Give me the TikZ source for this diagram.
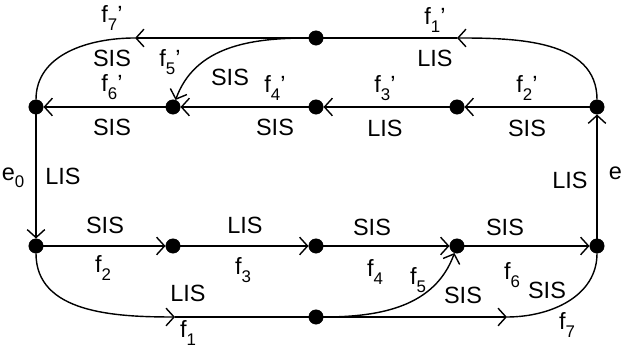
\documentclass[tikz,border=0pt]{standalone}
\usepackage{fontspec}
\setmainfont{Liberation Sans}
\usetikzlibrary{positioning, arrows.meta}
\newcommand{\fsub}[1]{f\raisebox{-0.6ex}{\fontsize{12}{12}\selectfont #1}}
\newcommand{\fpr}[1]{\fsub{#1}\char"27}
\newcommand{\esub}[1]{e\raisebox{-0.6ex}{\fontsize{12}{12}\selectfont #1}}

\begin{document}
\begin{tikzpicture}[x=0.025cm, y=0.025cm,
    dot/.style={draw, circle, fill=black, inner sep=0pt, minimum size=0.36cm},
    lbl/.style={font=\fontsize{16.7}{18}\selectfont, inner sep=0pt},
    link/.style={line width=1pt},
    arr/.style={link, -{Straight Barb[length=2mm, width=4.4mm]}},
]
\useasboundingbox (0,0) rectangle (623,352);

% Junctions
\node[dot] (t) at (316,314) {};
\node[dot] (L) at (36,245) {};
\node[dot] (a) at (173,245) {};
\node[dot] (b) at (316,245) {};
\node[dot] (c) at (457,245) {};
\node[dot] (R) at (597,245) {};
\node[dot] (L2) at (36,106) {};
\node[dot] (d) at (173,106) {};
\node[dot] (e) at (316,106) {};
\node[dot] (g) at (457,106) {};
\node[dot] (R2) at (597,106) {};
\node[dot] (bot) at (316,35) {};

% Mid-edge arrow points
\coordinate (m1) at (175,35);
\coordinate (m7) at (507,35);
\coordinate (m1p) at (457,314);
\coordinate (m7p) at (135,314);

% Sides
\draw[arr] (L) -- (L2);
\draw[arr] (R2) -- (R);

% Lower row (forward)
\draw[arr] (L2) -- (d);
\draw[arr] (d) -- (e);
\draw[arr] (e) -- (g);
\draw[arr] (g) -- (R2);
\draw[arr] (L2) to[out=-90, in=180] (m1);
\draw[link] (m1) -- (bot);
\draw[arr] (bot) -- (m7);
\draw[link] (m7) to[out=0, in=-90] (R2);
\draw[arr] (bot) to[out=0, in=-110] (g);

% Upper row (backward)
\draw[arr] (R) -- (c);
\draw[arr] (c) -- (b);
\draw[arr] (b) -- (a);
\draw[arr] (a) -- (L);
\draw[arr] (R) to[out=90, in=0] (m1p);
\draw[link] (m1p) -- (t);
\draw[arr] (t) -- (m7p);
\draw[link] (m7p) to[out=180, in=90] (L);
\draw[arr] (t) to[out=180, in=70] (a);

% Labels, upper part
\node[lbl] (lf7p) at (112,334) {\fpr{7}};
\node[lbl] (ls7p) at (112,294) {SIS};
\node[lbl] (lf5p) at (170,290) {\fpr{5}};
\node[lbl] (ls5p) at (230,275) {SIS};
\node[lbl] (lf1p) at (435,332) {\fpr{1}};
\node[lbl] (ls1p) at (435,294) {LIS};
\node[lbl] (lf6p) at (112,265) {\fpr{6}};
\node[lbl] (ls6p) at (112,225) {SIS};
\node[lbl] (lf4p) at (275,264) {\fpr{4}};
\node[lbl] (ls4p) at (275,225) {SIS};
\node[lbl] (lf3p) at (385,264) {\fpr{3}};
\node[lbl] (ls3p) at (385,224) {LIS};
\node[lbl] (lf2p) at (527,264) {\fpr{2}};
\node[lbl] (ls2p) at (527,224) {SIS};

% Labels, sides
\node[lbl] (le0) at (13,174) {\esub{0}};
\node[lbl] (lse0) at (63,176) {LIS};
\node[lbl] (lse1) at (570,172) {LIS};
\node[lbl] (le1) at (620,175) {\esub{1}};

% Labels, lower part
\node[lbl] (ls2) at (105,127) {SIS};
\node[lbl] (lf2) at (103,84) {\fsub{2}};
\node[lbl] (ls3) at (245,127) {LIS};
\node[lbl] (lf3) at (243,82) {\fsub{3}};
\node[lbl] (ls4) at (372,125) {SIS};
\node[lbl] (lf4) at (375,80) {\fsub{4}};
\node[lbl] (ls6) at (505,125) {SIS};
\node[lbl] (lf6) at (512,77) {\fsub{6}};
\node[lbl] (lf5) at (418,72) {\fsub{5}};
\node[lbl] (ls5) at (463,57) {SIS};
\node[lbl] (ls7) at (547,62) {SIS};
\node[lbl] (lf7) at (567,27) {\fsub{7}};
\node[lbl] (ls1) at (188,59) {LIS};
\node[lbl] (lf1) at (188,19) {\fsub{1}};
\end{tikzpicture}
\end{document}
